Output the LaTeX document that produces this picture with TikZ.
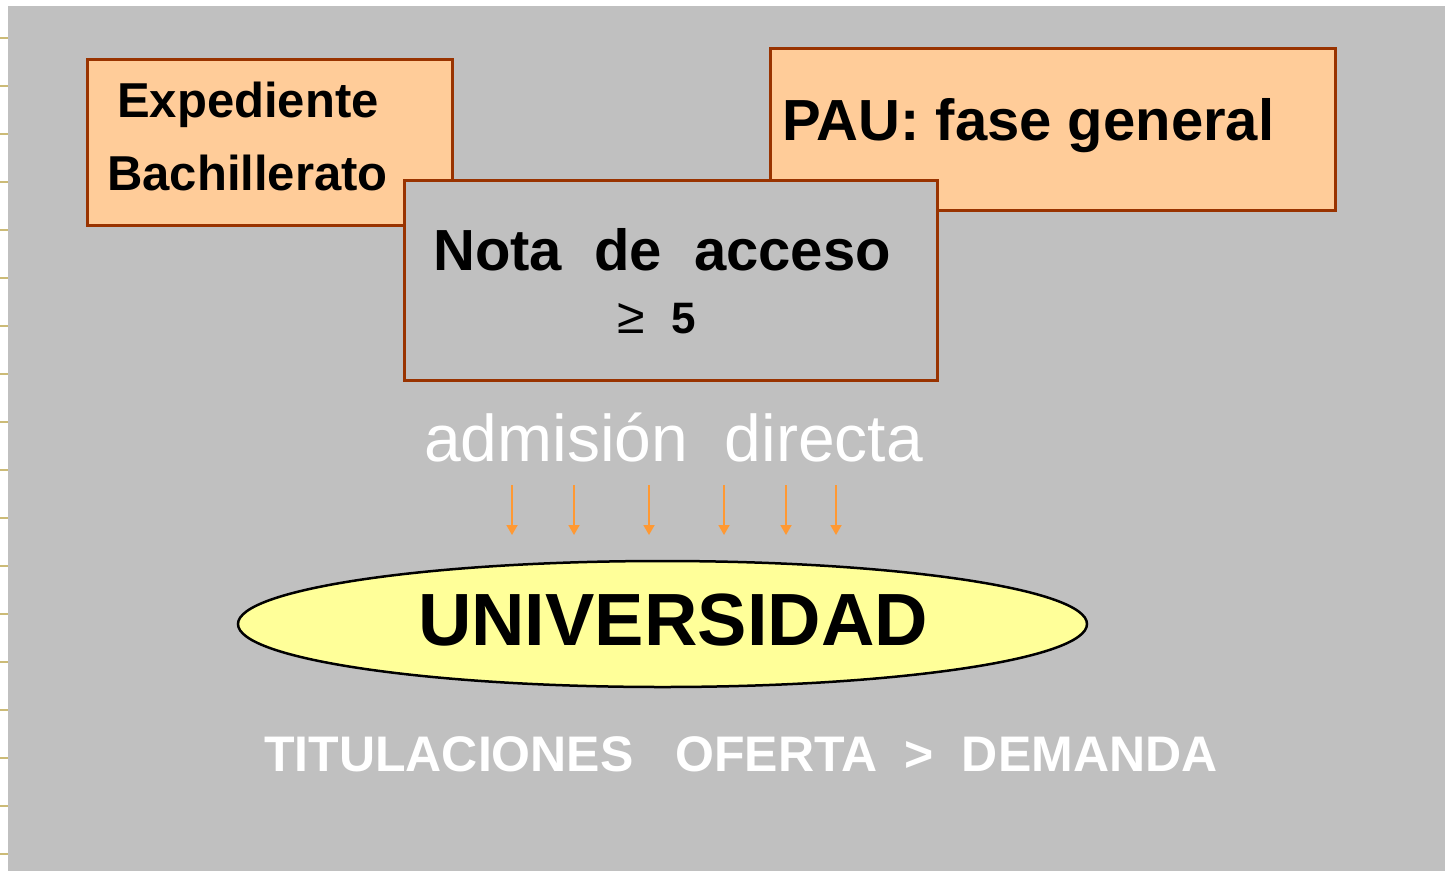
\documentclass[tikz,border=0pt]{standalone}
\usepackage{fontspec}
\setmainfont{Liberation Sans}
\usetikzlibrary{arrows.meta,shapes.geometric}
\definecolor{bggray}{HTML}{C0C0C0}
\definecolor{boxfill}{HTML}{FFCC99}
\definecolor{boxedge}{HTML}{993300}
\definecolor{univfill}{HTML}{FFFF99}
\definecolor{arroworange}{HTML}{FF9933}
\definecolor{tickcol}{HTML}{CCBB77}
\tikzset{
  box/.style={draw=boxedge, line width=3pt, inner sep=0pt},
  txt/.style={inner sep=0pt, anchor=base west},
  downarrow/.style={draw=arroworange, line width=1.8pt, -{Triangle[width=11pt,length=10pt]}}
}
\begin{document}
\begin{tikzpicture}[x=1pt,y=-1pt]
      \useasboundingbox (0,0) rectangle (1445,871);
      \fill[white] (0,0) rectangle (1445,871);
      \fill[bggray] (8,6) rectangle (1445,871);
      \foreach \ty in {38,86,...,854}
        \draw[tickcol, line width=2pt] (0,\ty) -- (8,\ty);
      % upper boxes
      \node[box, fill=boxfill, minimum width=365pt, minimum height=166pt] (exped) at (270,142.5) {};
      \node[box, fill=boxfill, minimum width=565pt, minimum height=162pt] (pau) at (1052.5,129) {};
      \node[box, fill=bggray, minimum width=533pt, minimum height=200pt] (nota) at (670.5,280) {};
      \node[txt] (expedtxt) at (117,117) {\fontsize{49}{49}\selectfont\bfseries Expediente};
      \node[txt] (bachtxt) at (107,190) {\fontsize{49}{49}\selectfont\bfseries Bachillerato};
      \node[txt] (pautxt) at (782,140) {\fontsize{58}{58}\selectfont\bfseries PAU: fase general};
      \node[txt] (notatxt) at (433,270) {\fontsize{58}{58}\selectfont\bfseries Nota\ \ de\ \ acceso};
      \node[txt] (notaval) at (617,333) {\fontsize{50}{50}\selectfont ≥\hspace{27pt}\fontsize{44}{44}\selectfont\bfseries 5};
      \node[txt, text=white] (admtxt) at (424,461) {\fontsize{66}{66}\selectfont admisión\ \ directa};
      % arrows to the university
      \foreach \ax [count=\i] in {512,574,649,724,786,836} {
        \coordinate (top\i) at (\ax,485);
        \coordinate (tip\i) at (\ax,535);
        \draw[downarrow] (top\i) -- (tip\i);
      }
      \node[ellipse, draw=black, line width=2.5pt, fill=univfill, minimum width=849pt, minimum height=126pt, inner sep=0pt] (univ) at (662.5,624) {};
      \node[txt, anchor=base] (univtxt) at (673,645) {\fontsize{74}{74}\selectfont\bfseries UNIVERSIDAD};
      \node[txt, text=white] (tittxt) at (264,771) {\fontsize{50}{50}\selectfont\bfseries TITULACIONES\ \ \ OFERTA\ \ >\ \ DEMANDA};
    \end{tikzpicture}
\end{document}
